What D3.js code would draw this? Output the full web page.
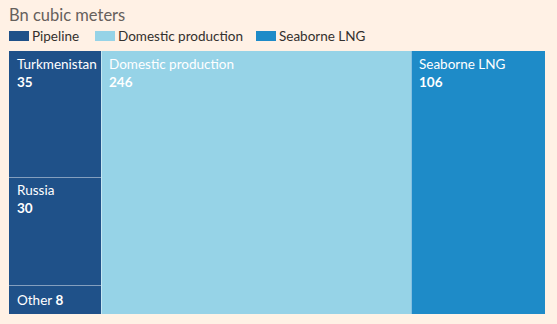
<!DOCTYPE html>
<html>
<head>
<meta charset="utf-8">
<script src="https://cdn.jsdelivr.net/npm/d3@7"></script>
<style>
  html, body { margin: 0; padding: 0; background: #fff1e5; }
  svg { display: block; font-family: Lato, "Open Sans", sans-serif; }
</style>
</head>
<body>
<svg id="chart" width="557" height="324"></svg>
<script>
// Gas supply by source, bn cubic meters
const groups = ["Pipeline", "Domestic production", "Seaborne LNG"];
const groupColors = ["#1f5189", "#96d3e7", "#1e8bc8"];
const pipelineCountries = ["Turkmenistan", "Russia", "Other"];
const pipelineValues = [35, 30, 8];
const domesticValue = 246;
const lngValue = 106;

const W = 557, H = 324;
const svg = d3.select("#chart");
const margin = { top: 51, right: 12, bottom: 10, left: 9 };

// Title
svg.append("text")
  .attr("x", 9).attr("y", 21)
  .attr("fill", "#66605c")
  .attr("font-size", 16.5)
  .text("Bn cubic meters");

// Legend
const legendX = [9, 95, 256];
const legend = svg.append("g");
groups.forEach((g, i) => {
  legend.append("rect")
    .attr("x", legendX[i]).attr("y", 31)
    .attr("width", 20).attr("height", 10)
    .attr("fill", groupColors[i]);
  legend.append("text")
    .attr("x", legendX[i] + 23).attr("y", 41)
    .attr("fill", "#33302e")
    .attr("font-size", 13.5)
    .text(g);
});

// Hierarchy
const data = {
  name: "root",
  children: [
    { name: "Pipeline", group: 0,
      children: pipelineCountries.map((c, i) => ({ name: c, value: pipelineValues[i], group: 0 })) },
    { name: "Domestic production", value: domesticValue, group: 1 },
    { name: "Seaborne LNG", value: lngValue, group: 2 }
  ]
};

const root = d3.hierarchy(data).sum(d => d.children ? 0 : d.value);

d3.treemap()
  .tile(d3.treemapSliceDice)
  .size([W - margin.left - margin.right, H - margin.top - margin.bottom])
  .round(true)(root);

const g = svg.append("g").attr("transform", `translate(${margin.left},${margin.top})`);

const leaves = g.selectAll("g.leaf")
  .data(root.leaves())
  .join("g")
  .attr("class", "leaf")
  .attr("transform", d => `translate(${d.x0},${d.y0})`);

leaves.append("rect")
  .attr("width", d => d.x1 - d.x0)
  .attr("height", d => d.y1 - d.y0)
  .attr("fill", d => groupColors[d.data.group]);

// Thin light separators between cells
leaves.filter(d => d.x0 > 0).append("line")
  .attr("x1", 0.5).attr("x2", 0.5)
  .attr("y1", 0).attr("y2", d => d.y1 - d.y0)
  .attr("stroke", "rgba(255,255,255,0.45)");
leaves.filter(d => d.y0 > 0).append("line")
  .attr("x1", 0).attr("x2", d => d.x1 - d.x0)
  .attr("y1", 0.5).attr("y2", 0.5)
  .attr("stroke", "rgba(255,255,255,0.45)");

// Labels: name on one line, value bold below; small cells keep both on one line
leaves.each(function(d) {
  const sel = d3.select(this);
  const h = d.y1 - d.y0;
  const t = sel.append("text")
    .attr("fill", "#ffffff")
    .attr("font-size", 13.5)
    .attr("x", 8);
  if (h < 40) {
    t.attr("y", h - 9);
    t.append("tspan").text(d.data.name + " ");
    t.append("tspan").attr("font-weight", "bold").text(d.data.value);
  } else {
    t.attr("y", 18);
    t.append("tspan").text(d.data.name);
    t.append("tspan").attr("x", 8).attr("dy", 18)
      .attr("font-weight", "bold").text(d.data.value);
  }
});
</script>
</body>
</html>
